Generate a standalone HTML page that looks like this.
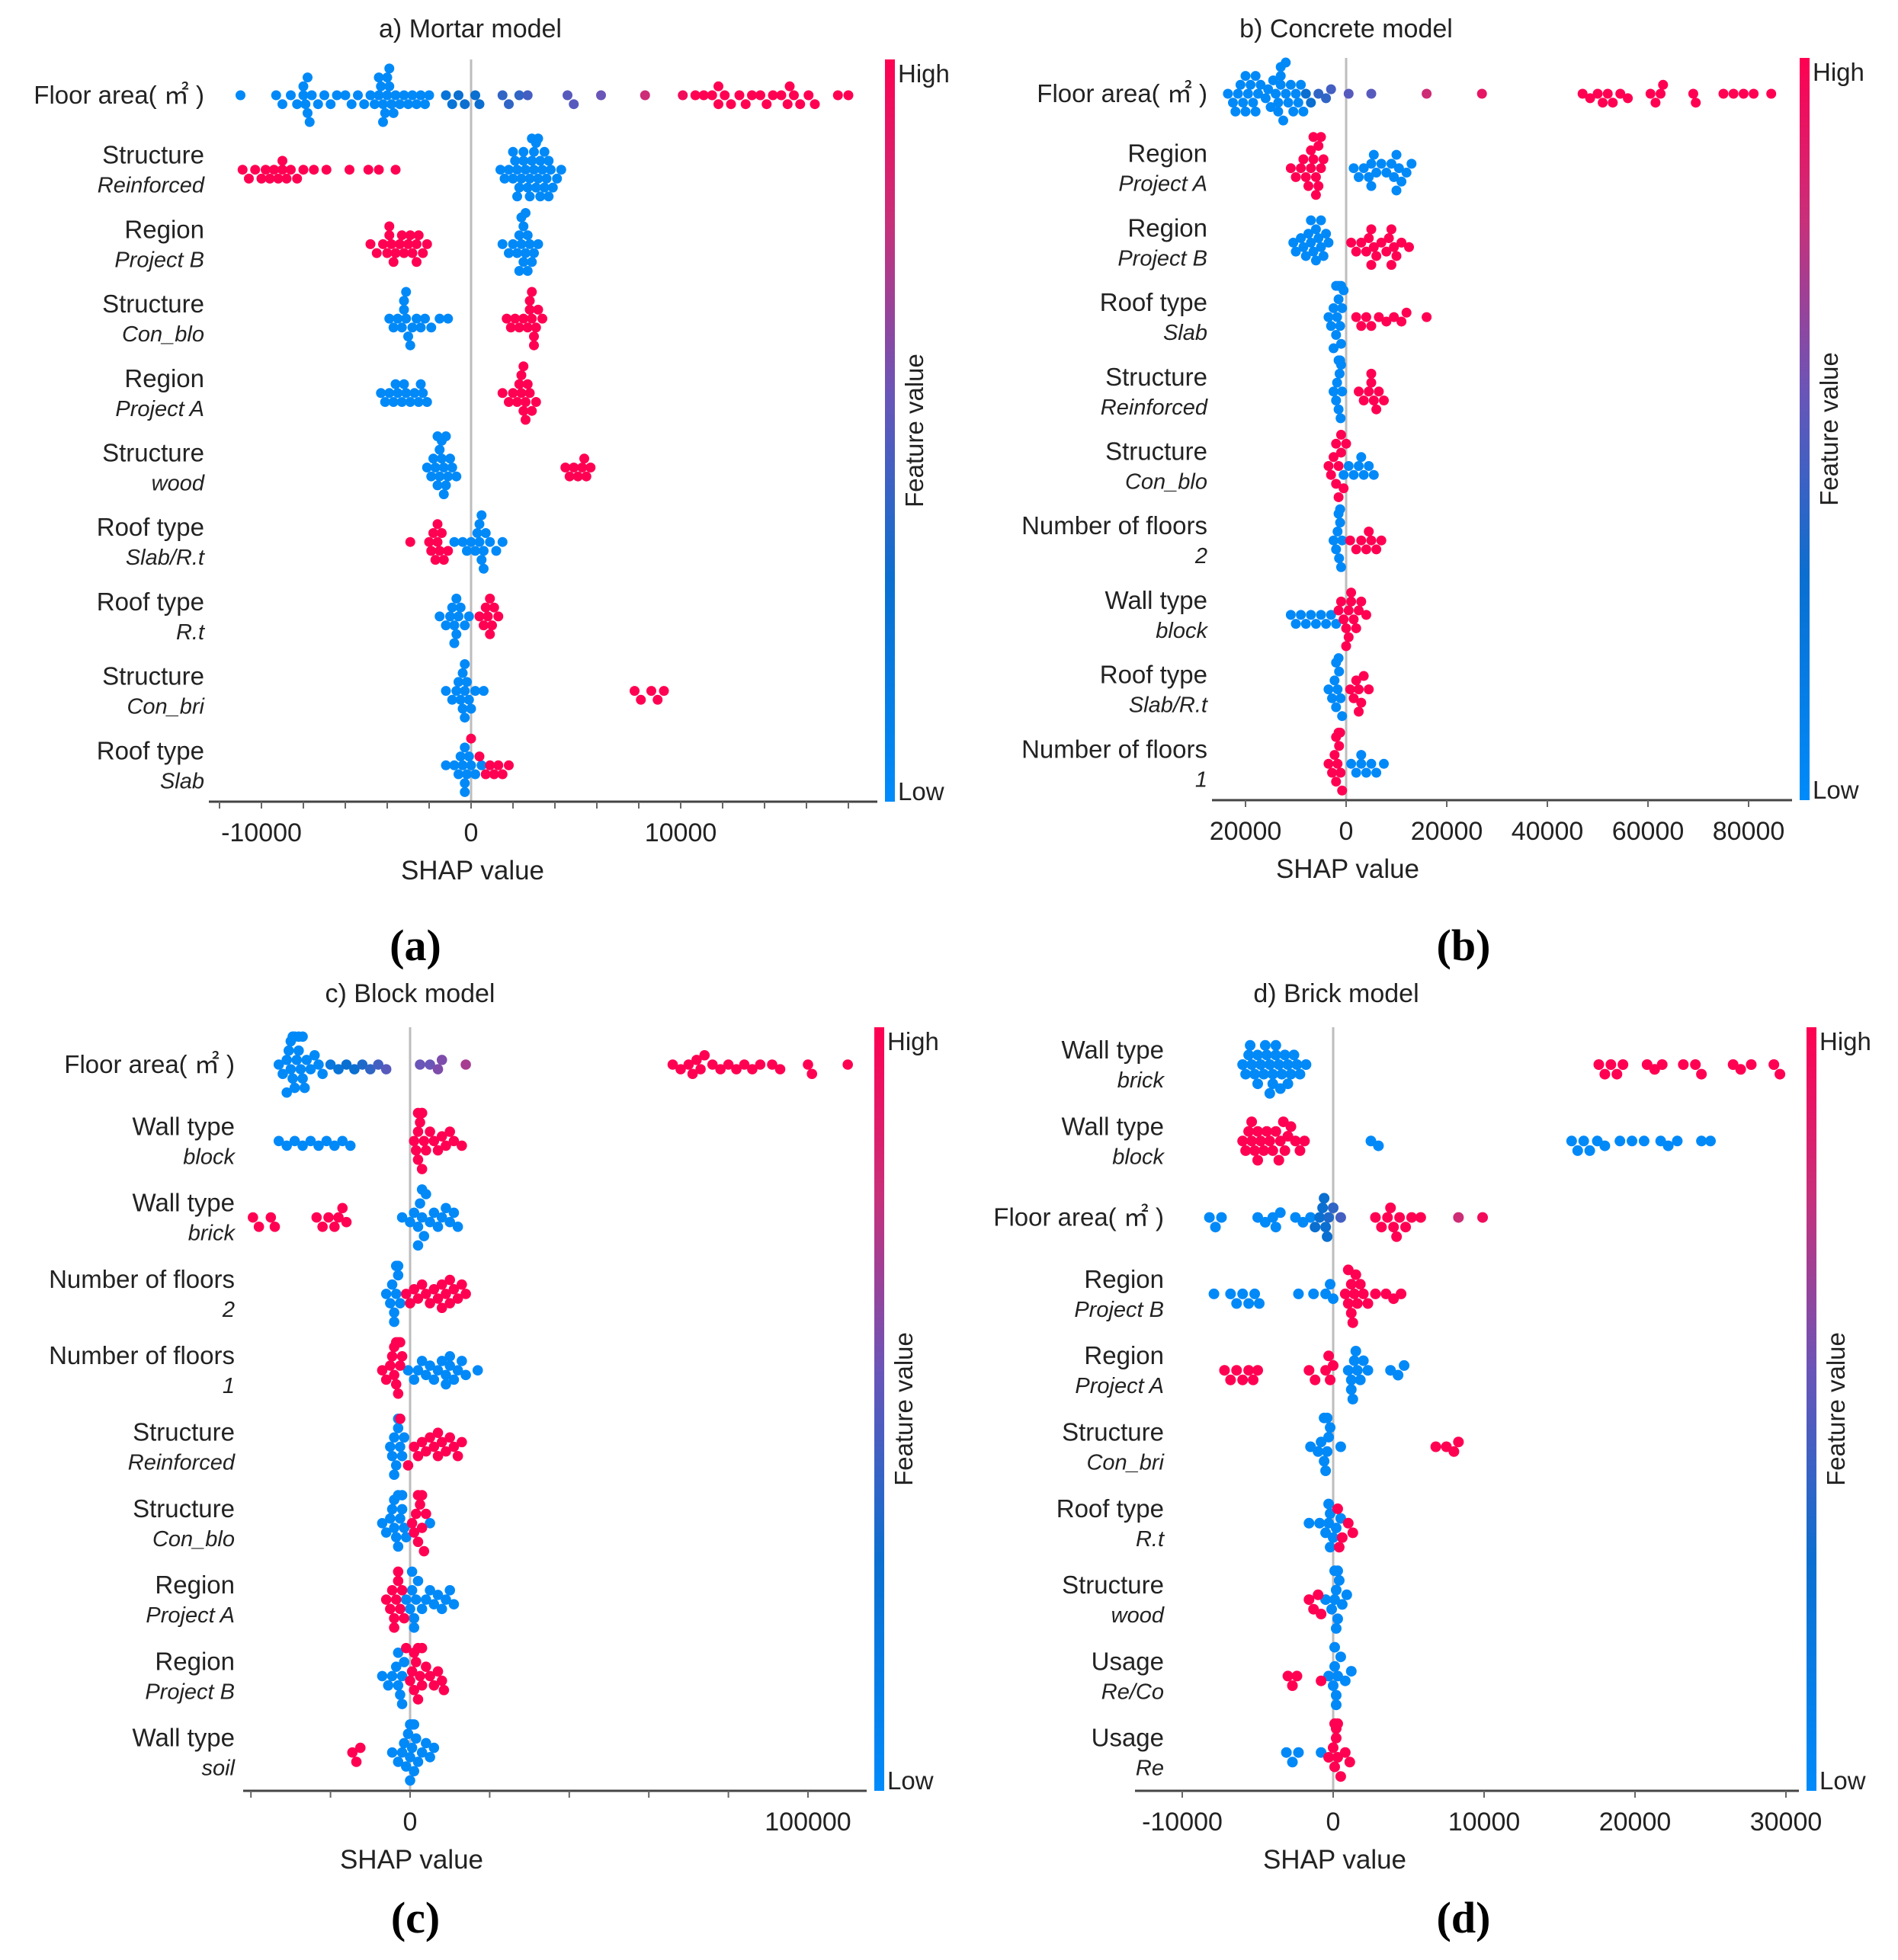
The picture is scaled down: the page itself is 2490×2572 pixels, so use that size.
<!DOCTYPE html>
<html><head><meta charset="utf-8">
<style>
html,body{margin:0;padding:0;background:#fff;}
svg{display:block;font-family:"Liberation Sans",Arial,sans-serif;}
</style></head>
<body>
<svg id="fig" width="2490" height="2572" viewBox="0 0 2490 2572" xmlns="http://www.w3.org/2000/svg">
<defs>
<linearGradient id="cbgrad" x1="0" y1="1" x2="0" y2="0">
<stop offset="0" stop-color="#008bfb"/>
<stop offset="0.3" stop-color="#0a6fd0"/>
<stop offset="0.55" stop-color="#6a55b8"/>
<stop offset="0.78" stop-color="#c8307a"/>
<stop offset="1" stop-color="#ff0052"/>
</linearGradient>
</defs>
</svg>
<script>
// ---------- DATA (SHAP values in thousands) ----------
const mortarLabels = [["Floor area( ㎡ )",""],["Structure","Reinforced"],["Region","Project B"],["Structure","Con_blo"],["Region","Project A"],["Structure","wood"],["Roof type","Slab/R.t"],["Roof type","R.t"],["Structure","Con_bri"],["Roof type","Slab"]];
const mortarLow = [
[-11,-9.3,-9,-8.6,-8.3,-8,-8,-7.9,-7.8,-7.8,-7.6,-7.3,-7,-6.7,-6.4,-6,-5.7,-5.4,-5.1,-4.8,-4.6,-4.4,-4.3,-4.2,-4.1,-4,-4,-3.9,-3.8,-3.7,-3.6,-3.4,-3.2,-3,-2.8,-2.6,-2.4,-2.2,-2,-4.2,-3.9,-4.4,-7.7],
[1.4,1.6,1.8,2,2.1,2.2,2.3,2.4,2.5,2.6,2.7,2.8,2.9,3,3,3.1,3.2,3.3,3.4,3.5,3.6,3.7,3.8,3.9,4.1,4.3,2.5,2.8,3.1,3.3,2.2,3.5,3.7,2,2.9,3.2],
[1.5,1.8,2,2.2,2.3,2.4,2.5,2.6,2.7,2.8,2.9,3,3.2,2.5,2.7,2.4,2.6,2.3],
[-3.9,-3.7,-3.5,-3.3,-3.2,-3.1,-3,-2.8,-2.6,-2.4,-2.2,-1.9,-1.5,-1.1,-3.2,-2.9,-3.1],
[-4.3,-4.1,-3.9,-3.7,-3.5,-3.3,-3.1,-2.9,-2.7,-2.5,-2.3,-2.1,-3.6,-3.2,-2.4],
[-2.1,-1.9,-1.8,-1.7,-1.6,-1.5,-1.4,-1.3,-1.2,-1.1,-1,-0.9,-0.7,-1.5,-1.3,-1.4,-1.6,-1.2],
[-0.8,-0.4,-0.2,0,0.2,0.3,0.4,0.5,0.6,0.7,0.9,1.2,1.5,0.4,0.6,0.5],
[-1.5,-1.2,-1,-0.9,-0.8,-0.7,-0.6,-0.5,-0.3,-0.1,-0.7,-0.8],
[-1.2,-0.9,-0.7,-0.6,-0.5,-0.4,-0.3,-0.2,-0.1,0,0.2,0.6,-0.4,-0.3,-0.3],
[-1.2,-0.8,-0.6,-0.5,-0.4,-0.3,-0.2,-0.1,0,0.2,0.5,-0.3,-0.3]];
const mortarHigh = [
[10.7,11.1,11.5,11.8,12.1,12.4,12.8,13.1,13.4,13.8,14.1,14.4,14.8,15.1,15.4,15.7,16.1,16.4,17.5,18,11.8,15.2],
[-10.9,-10.6,-10.3,-10,-9.8,-9.6,-9.4,-9.2,-9,-9,-8.8,-8.6,-8.3,-8,-7.5,-6.9,-5.8,-4.9,-4.4,-3.6],
[-4.8,-4.5,-4.2,-4,-3.9,-3.8,-3.6,-3.4,-3.2,-3,-2.8,-2.6,-2.5,-2.3,-2.1,-3.7,-3.3,-2.9,-3.9,-2.6],
[1.7,1.9,2.1,2.3,2.5,2.7,2.8,2.9,3,3.1,3.2,3.4,2.8,3,2.9],
[1.5,1.8,2,2.2,2.3,2.4,2.5,2.6,2.7,2.8,2.9,3.1,2.4,2.6,2.5],
[4.5,4.7,4.9,5.1,5.3,5.5,5.7,5.4],
[-2.9,-2,-1.9,-1.8,-1.7,-1.6,-1.5,-1.4,-1.3,-1.1,-1.6],
[0.4,0.6,0.7,0.8,0.9,1,1.1,1.3,0.9],
[7.8,8.1,8.6,8.9,9.2],
[0,0.4,0.7,0.9,1.1,1.3,1.5,1.8]];
const mortarMid = [
[[-1.2,.25],[-0.9,.25],[-0.6,.3],[-0.3,.3],[0.2,.3],[0.4,.3],[1.5,.4],[1.8,.4],[2.3,.4],[2.7,.45],[4.6,.5],[4.9,.5],[6.2,.55],[8.3,.8],[10.1,.95]],
[],[],[],[],[],[],[],[],[]];
const mortarTicks = [-12,-10,-8,-6,-4,-2,0,2,4,6,8,10,12,14,16,18];
const mortarTickLabels = [["-10000",-10],["0",0],["10000",10]];

const concreteLabels = [["Floor area( ㎡ )",""],["Region","Project A"],["Region","Project B"],["Roof type","Slab"],["Structure","Reinforced"],["Structure","Con_blo"],["Number of floors","2"],["Wall type","block"],["Roof type","Slab/R.t"],["Number of floors","1"]];
const concreteLow = [
[-23.5,-22.5,-21.5,-21,-20.5,-20,-19.5,-19,-18.5,-18,-17.5,-17,-16,-15.5,-15,-14.5,-14,-13.5,-13.5,-13,-13,-12.5,-12,-11.5,-11,-10.5,-10,-9.5,-9,-8.5,-22,-20,-18,-13,-12],
[1.5,2.5,3.5,4.5,5,5.5,6,7,8,9,9.5,10,10.5,11,12,13,5,10],
[-10.5,-10,-9,-8.5,-8,-7.5,-7,-6.5,-6,-5.5,-5,-4.5,-4,-3.5,-6,-5,-7],
[-3.5,-3,-2.5,-2,-1.8,-1.5,-1.2,-1,-0.8,-0.5,-2,-1.5,-1,-2.5],
[-2.5,-2,-1.8,-1.5,-1.3,-1.1,-1,-0.8,-1.5,-1.2],
[0.5,1.5,2.5,3.5,4.5,5.5,3,-0.5],
[-2.5,-2,-1.7,-1.4,-1.2,-1,-0.8,-1.5,-1.2],
[-11,-10,-9,-8,-7,-6,-5,-4,-3,-2],
[-3.5,-2.8,-2.3,-2,-1.7,-1.4,-1.1,-0.8,-2,-1.5],
[1,2,3,4,5,6,7.5,3]];
const concreteHigh = [
[47,48.5,50,51,52,53,54.5,56,60.5,61.5,62.5,63,69,69.5,75,77,79,81,84.5],
[-11,-10,-9,-8.5,-8,-7.5,-7,-6.5,-6,-5.5,-5,-4.5,-7,-6,-5.5,-6.5,-5],
[1,2,3,4,4.5,5,5.5,6,7,8,8.5,9,9.5,10,11,12.5,5,9],
[2,3,4,5,6.5,8,9.5,11,12,16],
[2.5,3.5,4.5,5,5.5,6,6.5,7.5,5],
[-3.5,-3,-2.5,-2,-1.5,-1,-0.5,0,-2,-1.5,-1],
[0.8,2,3,4,5,6,7,4.5],
[-1.5,-1,-0.5,0,0.5,1,1.5,2,2.5,3,4,0.5,1,0],
[0.8,1.5,2,2.5,3,3.5,4.5,2.5],
[-3.5,-2.8,-2.3,-2,-1.7,-1.4,-1.1,-0.8,-2,-1.5,-1.2]];
const concreteMid = [
[[-8,.3],[-7,.3],[-5.5,.4],[-4,.4],[-3,.45],[0.5,.5],[5,.5],[16,.8],[27,.9]],
[],[],[],[],[],[],[],[],[]];
const concreteTicks = [-20,0,20,40,60,80];
const concreteTickLabels = [["20000",-20],["0",0],["20000",20],["40000",40],["60000",60],["80000",80]];

const blockLabels = [["Floor area( ㎡ )",""],["Wall type","block"],["Wall type","brick"],["Number of floors","2"],["Number of floors","1"],["Structure","Reinforced"],["Structure","Con_blo"],["Region","Project A"],["Region","Project B"],["Wall type","soil"]];
const blockLow = [
[-33,-32,-31,-30.5,-30,-29.5,-29,-28.5,-28,-27.5,-27,-26.5,-26,-25,-24,-23,-22,-30,-29,-28,-27,-31,-29.5],
[-33,-31,-29,-27,-25,-23,-21,-19,-17,-15],
[-2,0,1,2,2.5,3,3.5,4,5,6,7,8,9,10,11,12,2,3],
[-6,-5,-4.5,-4,-3.5,-3,-2.5,-4,-3.5,-3],
[-0.5,1,2,3,4,5,6,7,8,9,10,11,12,13,14,17,9,10],
[-5,-4.5,-4,-3.5,-3,-2.5,-2,-1.5,-4,-3,-2.5],
[-7,-6,-5,-4.5,-4,-3.5,-3,-2.5,-2,-1.5,-4,-3,-2,-1,5],
[-1,0,0.5,1,1.5,2,3,4,5,6,7,8,9,10,11,1,0.5],
[-7,-5.5,-4.5,-3.5,-3,-2.5,-2,-1.5,-3,-2],
[-4.5,-3,-2,-1.5,-1,-0.5,0,0.5,1,1.5,2,3,4,5,6,0,0.5,1,0]];
const blockHigh = [
[66,68,70,71,72,73,74,76,78,80,82,84,86,88,91,93,100,101,110],
[1,1.5,2,2,2.5,3,3,3.5,4,5,6,7,8,9,10,11,13,2,3],
[-39.5,-38,-35,-34,-23.5,-22,-20.5,-19,-18,-17,-16],
[-1,0,1,2,3,4,5,6,7,8,9,10,11,12,13,14,8,10],
[-7,-6,-5,-4.5,-4,-3.5,-3,-2.5,-2,-4,-3.5,-3,-2.5],
[-0.5,1,2,3,4,5,6,7,8,9,10,11,12,13,7,-2.5],
[0.5,1,1.5,2,2.5,3,3.5,4,2,3],
[-6,-5,-4.5,-4,-3.5,-3,-2.5,-2,-1.5,-4,-3],
[-1,0,0.5,1,1.5,2,2.5,3,4,5,6,7,8,8.5,1,2,3],
[-14.5,-13.5,-12.5]];
const blockMid = [
[[-20,.2],[-18,.25],[-16,.3],[-14,.3],[-12,.35],[-10,.4],[-8,.45],[-6,.5],[2.5,.55],[5,.55],[7,.6],[8,.6],[14,.7]],
[],[],[],[],[],[],[],[],[]];
const blockTicks = [-40,-20,0,20,40,60,80,100];
const blockTickLabels = [["0",0],["100000",100]];

const brickLabels = [["Wall type","brick"],["Wall type","block"],["Floor area( ㎡ )",""],["Region","Project B"],["Region","Project A"],["Structure","Con_bri"],["Roof type","R.t"],["Structure","wood"],["Usage","Re/Co"],["Usage","Re"]];
const brickLow = [
[-6,-5.8,-5.6,-5.4,-5.2,-5,-4.8,-4.6,-4.4,-4.2,-4,-3.8,-3.6,-3.4,-3.2,-3,-2.8,-2.6,-2.4,-2.2,-1.8,-5,-4.5,-4,-3.8,-3.5,-4.2,-5.5,-3],
[2.5,3,15.8,16.2,16.6,17,17.5,18,19,19.8,20.6,21.7,22.2,22.8,24.4,25],
[-8.2,-7.8,-7.4,-5,-4.5,-4,-3.8,-3.5,-2.5,-2,-1.5],
[-7.9,-6.8,-6.4,-6,-5.6,-5.2,-4.9,-2.3,-1.3,-0.5,0,-0.2],
[1,1.2,1.4,1.6,1.8,2,2.3,3.8,4.3,4.7,1.2,1.5,1.3],
[-1.5,-1,-0.8,-0.6,-0.4,-0.3,-0.2,0.5,-0.5,-0.4,-0.6],
[-1.6,-0.9,-0.5,-0.3,-0.2,0,0.2,0.5,-0.3,-0.2],
[-0.5,-0.1,0.1,0.2,0.3,0.4,0.6,0.9,0.2,0.3,0.1],
[-0.3,0,0.1,0.2,0.3,0.5,0.8,1.2,0.2,0.1],
[-3.1,-2.7,-2.3,-0.8]];
const brickHigh = [
[17.6,18,18.4,18.8,19.2,20.8,21.3,21.8,23.2,24,24.4,26.5,27,27.7,29.2,29.6],
[-6,-5.8,-5.6,-5.4,-5.2,-5,-4.8,-4.6,-4.4,-4.2,-4,-3.8,-3.5,-3.2,-3,-2.8,-2.5,-2.2,-1.9,-5,-3.6,-3.3,-5.4],
[2.8,3.2,3.6,4,4.4,4.8,5.2,5.8,3.8,4.2],
[0.8,1,1.2,1.4,1.6,1.8,2,2.3,2.8,3.5,4,4.5,1.2,1.5,1,1.3],
[-7.2,-6.8,-6.4,-6,-5.6,-5.3,-5,-1.6,-1.2,-0.5,-0.2,0,-0.3],
[6.8,7.5,8,8.3],
[0.3,0.6,1,1.3,0.4],
[-1.6,-1.3,-1,-0.8],
[-3,-2.7,-2.4,-0.8],
[-0.3,0,0.1,0.2,0.3,0.5,0.8,1.1,0.2,0.1,0.3]];
const brickMid = [[],[],
[[-1.2,.3],[-0.9,.3],[-0.7,.3],[-0.5,.3],[-0.4,.3],[-0.6,.3],[-0.3,.35],[0,.4],[0.5,.45],[8.3,.8],[9.9,.95]],
[],[],[],[],[],[],[]];
const brickTicks = [-10,0,10,20,30];
const brickTickLabels = [["-10000",-10],["0",0],["10000",10],["20000",20],["30000",30]];

// ---------- DRAWING ----------
const NS = "http://www.w3.org/2000/svg";
const svg = document.getElementById("fig");
function mk(tag, attrs, parent){
  const e = document.createElementNS(NS, tag);
  for (const k in attrs) e.setAttribute(k, attrs[k]);
  (parent||svg).appendChild(e);
  return e;
}
function colorFor(f){
  const stops=[[0,[0,139,251]],[0.3,[10,111,208]],[0.55,[106,85,184]],[0.78,[200,48,122]],[1,[255,0,82]]];
  for(let i=1;i<stops.length;i++){
    if(f<=stops[i][0]){
      const a=stops[i-1],b=stops[i],t=(f-a[0])/(b[0]-a[0]);
      const c=a[1].map((v,j)=>Math.round(v+(b[1][j]-v)*t));
      return "rgb("+c.join(",")+")";
    }
  }
  return "rgb(255,0,82)";
}

function drawPanel(p){
  const g = mk("g",{});
  
  
  const xs = v => p.x0 + v*p.pk;
  const ys = i => p.row0 + i*p.dy;
  const t = mk("text",{x:p.titleX,y:p.titleY+12,"font-size":34,"text-anchor":"middle",fill:"#222"},g);
  t.textContent = p.title;
  
  
  const zl = mk("line",{x1:xs(0),x2:xs(0),y1:p.top,y2:p.axisY,stroke:"#bdbdbd","stroke-width":3},g);
  
  
  p.labels.forEach((lb,i)=>{
    const y=ys(i);
    if(lb[1]===""){
      const a=mk("text",{x:p.labR,y:y+11,"font-size":33,"text-anchor":"end",fill:"#222"},g);
      a.textContent=lb[0];
      
      
    } else {
      const a=mk("text",{x:p.labR,y:y-8,"font-size":33,"text-anchor":"end",fill:"#222"},g);
      a.textContent=lb[0];
      
      
      const b=mk("text",{x:p.labR,y:y+30,"font-size":29,"font-style":"italic","text-anchor":"end",fill:"#222"},g);
      b.textContent=lb[1];
      
      
    }
  });
  const r=p.r, maxOff=p.dy*0.42;
  p.labels.forEach((lb,i)=>{
    const pts=[];
    p.low[i].forEach(v=>pts.push([v,0.02]));
    p.mid[i].forEach(m=>pts.push([m[0],m[1]]));
    p.high[i].forEach(v=>pts.push([v,1]));
    const placed=[];
    pts.forEach(pt=>{
      const px=xs(pt[0]);
      let off=0;
      for(let s=0;s<40;s++){
        const cand = s===0?0:(s%2? 1:-1)*Math.ceil(s/2)*r*0.9;
        if(Math.abs(cand)>maxOff) break;
        let ok=true;
        for(const q of placed){ const dx=q[0]-px, dy=q[1]-cand; if(dx*dx+dy*dy<(r*1.6)*(r*1.6)){ok=false;break;} }
        off=cand;
        if(ok) break;
      }
      placed.push([px,off]);
      const c=mk("circle",{cx:px,cy:ys(i)+off,r:r,fill:colorFor(pt[1])},g);
      
      
    });
  });
  const ax=mk("line",{x1:p.L,x2:p.R,y1:p.axisY,y2:p.axisY,stroke:"#444","stroke-width":3},g);
  
  
  p.ticks.forEach(v=>{
    const tk=mk("line",{x1:xs(v),x2:xs(v),y1:p.axisY,y2:p.axisY+9,stroke:"#666","stroke-width":2},g);
    
    
  });
  p.tickLabels.forEach(tl=>{
    const tx=mk("text",{x:xs(tl[1]),y:p.axisY+52,"font-size":34,"text-anchor":"middle",fill:"#222"},g);
    tx.textContent=tl[0];
    
    
  });
  const xt=mk("text",{x:xs(0)+2,y:p.axisY+102,"font-size":35,"text-anchor":"middle",fill:"#222"},g);
  xt.textContent="SHAP value";
  
  
  const cb=mk("rect",{x:p.cbX,y:p.top,width:13,height:p.axisY-p.top,fill:"url(#cbgrad)"},g);
  
  
  const hi=mk("text",{x:p.cbX+17,y:p.top+30,"font-size":33,fill:"#222"},g);
  hi.textContent="High";
  
  
  const lo=mk("text",{x:p.cbX+17,y:p.axisY-2,"font-size":33,fill:"#222"},g);
  lo.textContent="Low";
  
  
  const my=(p.top+p.axisY)/2, mx=p.cbX+50;
  const fv=mk("text",{x:mx,y:my,"font-size":33,"text-anchor":"middle",fill:"#222",transform:"rotate(-90 "+mx+" "+my+")"},g);
  fv.textContent="Feature value";
  
  
  const sl=mk("text",{x:p.subX,y:p.subY+18,"font-size":58,"font-weight":"bold","text-anchor":"middle",fill:"#000","font-family":"'Liberation Serif',serif"},g);
  sl.textContent=p.sub;
  
  
}

drawPanel({id:"mortar",title:"a) Mortar model",sub:"(a)",labels:mortarLabels,low:mortarLow,high:mortarHigh,mid:mortarMid,ticks:mortarTicks,tickLabels:mortarTickLabels,
  x0:618,pk:27.5,axisY:1052,L:274,R:1151,row0:125,dy:97.7,cbX:1161,top:78,labR:268,titleX:617,titleY:37,subX:545,subY:1242,r:6.5});
drawPanel({id:"concrete",title:"b) Concrete model",sub:"(b)",labels:concreteLabels,low:concreteLow,high:concreteHigh,mid:concreteMid,ticks:concreteTicks,tickLabels:concreteTickLabels,
  x0:1766,pk:6.6,axisY:1050,L:1590,R:2351,row0:123,dy:97.7,cbX:2361,top:76,labR:1584,titleX:1766,titleY:37,subX:1920,subY:1242,r:6.5});
drawPanel({id:"block",title:"c) Block model",sub:"(c)",labels:blockLabels,low:blockLow,high:blockHigh,mid:blockMid,ticks:blockTicks,tickLabels:blockTickLabels,
  x0:538,pk:5.22,axisY:2350,L:319,R:1137,row0:1397,dy:100.3,cbX:1147,top:1348,labR:308,titleX:538,titleY:1303,subX:545,subY:2518,r:6.8});
drawPanel({id:"brick",title:"d) Brick model",sub:"(d)",labels:brickLabels,low:brickLow,high:brickHigh,mid:brickMid,ticks:brickTicks,tickLabels:brickTickLabels,
  x0:1749,pk:19.8,axisY:2350,L:1489,R:2360,row0:1397,dy:100.3,cbX:2370,top:1348,labR:1527,titleX:1753,titleY:1303,subX:1920,subY:2518,r:7});
</script>
</body></html>
